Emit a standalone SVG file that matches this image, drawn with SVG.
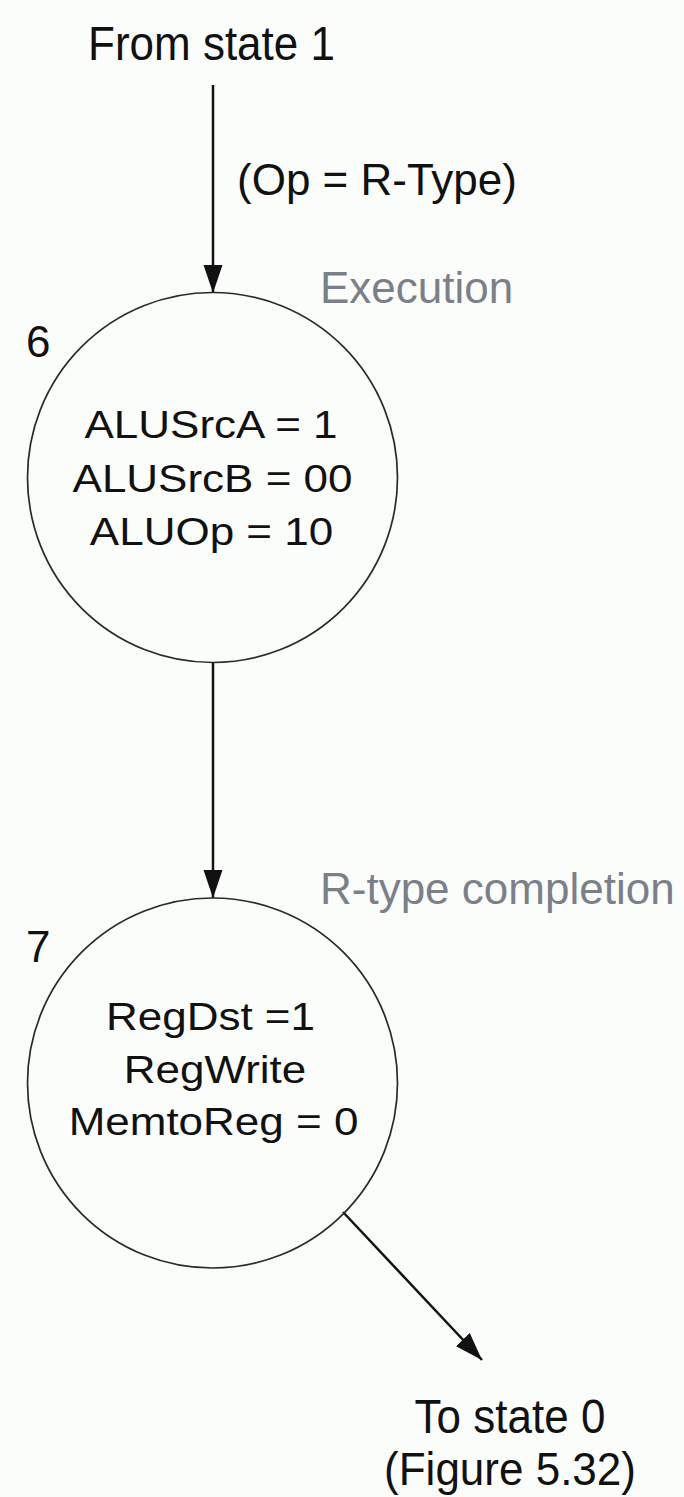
<svg xmlns="http://www.w3.org/2000/svg" width="684" height="1497" viewBox="0 0 684 1497">
<style>
text{font-family:"Liberation Sans",Arial,sans-serif;font-size:44px;fill:#111}
.gray{fill:#7b7f8a}
.state{fill:none;stroke:#2a2a2a;stroke-width:1.7}
.conn{stroke:#111;stroke-width:2.5;fill:none}
.mid{text-anchor:middle}
</style>
<defs>
<marker id="ah" viewBox="0 0 28 20" refX="28" refY="10" markerWidth="28" markerHeight="20" markerUnits="userSpaceOnUse" orient="auto">
<path d="M0,0.5 L28,10 L0,19.5 z" fill="#111"/>
</marker>
</defs>
<rect x="0" y="0" width="684" height="1497" fill="#fbfdfb"/>

<g id="connectors">
<line class="conn" x1="213" y1="85" x2="213" y2="293" marker-end="url(#ah)"/>
<line class="conn" x1="213" y1="662" x2="213" y2="898" marker-end="url(#ah)"/>
<line class="conn" x1="343" y1="1212" x2="482" y2="1360" marker-end="url(#ah)"/>
</g>

<g id="from-label">
<text class="mid" transform="translate(211.5,60) scale(1,1.1)">From state 1</text>
</g>
<g id="cond-label">
<text x="237" y="195">(Op = R-Type)</text>
</g>

<g id="state6">
<circle class="state" cx="212.5" cy="477.5" r="185"/>
<text x="26" y="357">6</text>
<text class="gray" x="320" y="303">Execution</text>
<text class="mid" transform="translate(211,438) scale(1,0.87)">ALUSrcA = 1</text>
<text class="mid" transform="translate(212.5,492) scale(1,0.87)">ALUSrcB = 00</text>
<text class="mid" transform="translate(211.5,545) scale(1,0.87)">ALUOp = 10</text>
</g>

<g id="state7">
<circle class="state" cx="212.5" cy="1083" r="185"/>
<text x="26" y="962">7</text>
<text class="gray" x="320" y="904">R-type completion</text>
<text class="mid" transform="translate(210.5,1030) scale(1,0.87)">RegDst =1</text>
<text class="mid" transform="translate(215,1083) scale(1,0.87)">RegWrite</text>
<text class="mid" transform="translate(213.5,1135) scale(1,0.87)">MemtoReg = 0</text>
</g>

<g id="to-label">
<text class="mid" transform="translate(510,1433) scale(1,1.1)">To state 0</text>
<text class="mid" transform="translate(510,1485) scale(1,1.05)">(Figure 5.32)</text>
</g>
</svg>
